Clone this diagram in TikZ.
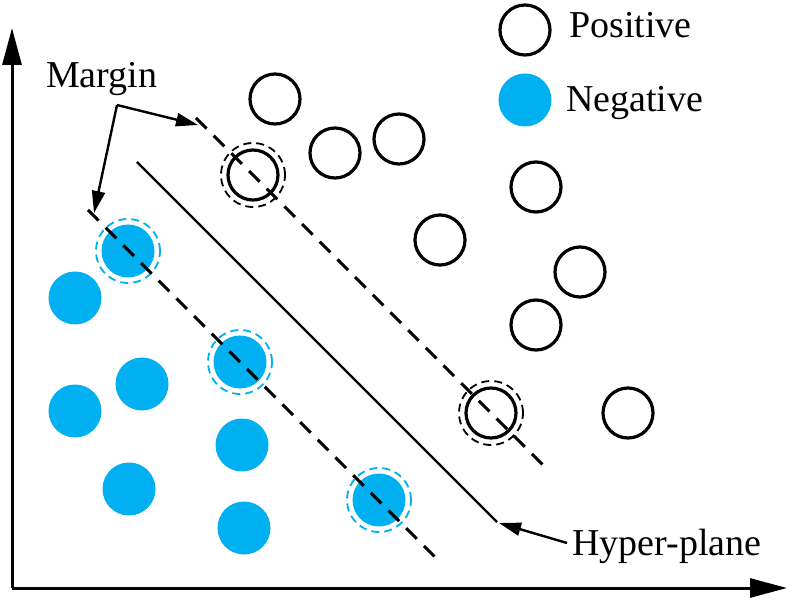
\documentclass[tikz,border=0pt]{standalone}
\usepackage{fontspec}
\setmainfont{Liberation Serif}
\usetikzlibrary{arrows.meta}
\definecolor{negblue}{HTML}{00B0F0}
\begin{document}
\begin{tikzpicture}[x=1pt,y=-1pt,
  posdot/.style={circle,draw=black,line width=3.2pt,minimum size=50pt,inner sep=0pt},
  negdot/.style={circle,fill=negblue,minimum size=53pt,inner sep=0pt},
  posring/.style={circle,draw=black,line width=1.8pt,dash pattern=on 8pt off 5pt,minimum size=64pt,inner sep=0pt},
  negring/.style={circle,draw=negblue,line width=1.8pt,dash pattern=on 8pt off 5pt,minimum size=64pt,inner sep=0pt},
  marginline/.style={line width=3pt,dash pattern=on 15pt off 10pt},
  axis/.style={line width=3pt,-{Triangle[length=37pt,width=19pt]}},
  pointer/.style={line width=2.4pt,-{Triangle[length=22pt,width=13pt]}},
  lbl/.style={font=\fontsize{38}{40}\selectfont,inner sep=0pt,anchor=base west}]
\useasboundingbox (0,0) rectangle (792,601);
% axes
\coordinate (o) at (12,588);
\coordinate (ytip) at (12,28);
\coordinate (xtip) at (787,588);
\draw[axis] (o) -- (ytip);
\draw[axis] (o) -- (xtip);
% legend
\node[posdot] (lp) at (525,30) {};
\node[negdot] (ln) at (525,100) {};
\node[lbl] (lpt) at (569,38) {Positive};
\node[lbl] (lnt) at (566,112) {Negative};
% positive points
\node[posdot] (p1) at (275,99) {};
\node[posdot] (p2) at (335,153) {};
\node[posdot] (p3) at (399,139) {};
\node[posdot] (p4) at (536,187) {};
\node[posdot] (p5) at (440,240) {};
\node[posdot] (p6) at (580,272) {};
\node[posdot] (p7) at (536,325) {};
\node[posdot] (p8) at (628,413) {};
\node[posring] (sp1r) at (253,175) {};
\node[posdot] (sp1) at (253,175) {};
\node[posring] (sp2r) at (491,413) {};
\node[posdot] (sp2) at (491,413) {};
% negative points
\node[negdot] (n1) at (75,298) {};
\node[negdot] (n2) at (142,384) {};
\node[negdot] (n3) at (75,411) {};
\node[negdot] (n4) at (242,445) {};
\node[negdot] (n5) at (129,489) {};
\node[negdot] (n6) at (244,528) {};
\node[negring] (sn1r) at (128,251) {};
\node[negdot] (sn1) at (128,251) {};
\node[negring] (sn2r) at (240,362) {};
\node[negdot] (sn2) at (240,362) {};
\node[negring] (sn3r) at (379,500) {};
\node[negdot] (sn3) at (379,500) {};
% margins and hyper-plane
\coordinate (ua) at (196,118);
\coordinate (ub) at (548,470);
\coordinate (la) at (88,210);
\coordinate (lb) at (437,559);
\coordinate (ha) at (137,162);
\coordinate (hb) at (497,522);
\draw[marginline] (ua) -- (ub);
\draw[marginline] (la) -- (lb);
\draw[line width=2.4pt] (ha) -- (hb);
% labels
\node[lbl] (mt) at (46,88) {Margin};
\coordinate (mb) at (117,105);
\coordinate (mu) at (198,125);
\coordinate (ml) at (94,213);
\draw[pointer] (mb) -- (mu);
\draw[pointer] (mb) -- (ml);
\node[lbl] (ht) at (572,555) {Hyper-plane};
\coordinate (hs) at (567,543);
\coordinate (he) at (499,523);
\draw[pointer] (hs) -- (he);
\end{tikzpicture}
\end{document}
